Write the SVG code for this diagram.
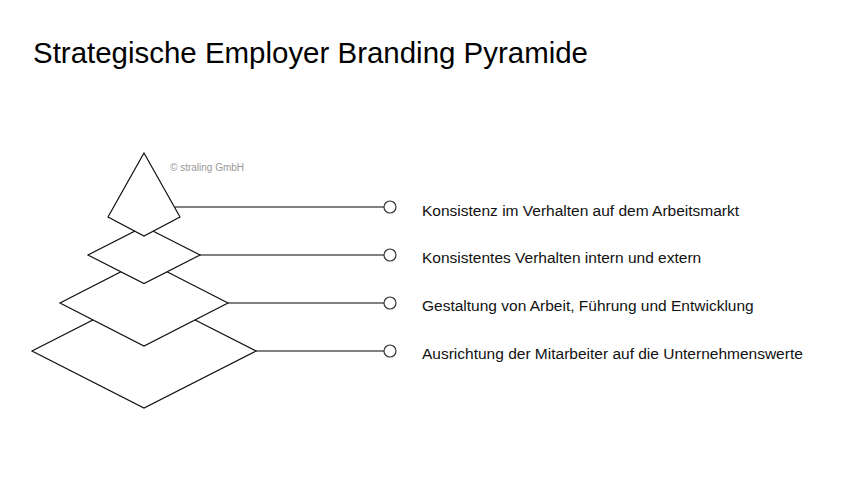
<svg xmlns="http://www.w3.org/2000/svg" width="864" height="486" viewBox="0 0 864 486">
<style>
.shape{fill:#fff;stroke:#111;stroke-width:1.2;stroke-linejoin:miter}
.conn{stroke:#808080;stroke-width:2;fill:none}
.dot{fill:#fff;stroke:#333;stroke-width:1.2}
.lbl{font-family:"Liberation Sans",Arial,sans-serif;font-size:15.5px;fill:#111}
.title{font-family:"Liberation Sans",Arial,sans-serif;font-size:29px;fill:#000}
.copy{font-family:"Liberation Sans",Arial,sans-serif;font-size:10px;fill:#999}
</style>
<rect width="864" height="486" fill="#fff"/>
<text class="title" x="33" y="63" textLength="555" lengthAdjust="spacingAndGlyphs">Strategische Employer Branding Pyramide</text>
<g id="connectors">
<line class="conn" x1="175" y1="207" x2="384" y2="207"/>
<line class="conn" x1="200" y1="255" x2="384" y2="255"/>
<line class="conn" x1="228" y1="303" x2="384" y2="303"/>
<line class="conn" x1="256" y1="351" x2="384" y2="351"/>
<circle class="dot" cx="390" cy="207" r="6"/>
<circle class="dot" cx="390" cy="255" r="6"/>
<circle class="dot" cx="390" cy="303" r="6"/>
<circle class="dot" cx="390" cy="351" r="6"/>
</g>
<g id="level4">
<polygon class="shape" points="144,294 256,351 144,408 32,351"/>
<text class="lbl" x="422" y="359">Ausrichtung der Mitarbeiter auf die Unternehmenswerte</text>
</g>
<g id="level3">
<polygon class="shape" points="144,260 228,303 144,346 60,303"/>
<text class="lbl" x="422" y="311">Gestaltung von Arbeit, Führung und Entwicklung</text>
</g>
<g id="level2">
<polygon class="shape" points="144,226.5 200,255 144,283.5 88,255"/>
<text class="lbl" x="422" y="263">Konsistentes Verhalten intern und extern</text>
</g>
<g id="level1">
<polygon class="shape" points="144,153 180,217 144,236 108,217"/>
<text class="lbl" x="422" y="216">Konsistenz im Verhalten auf dem Arbeitsmarkt</text>
</g>
<text class="copy" x="170" y="171">© straling GmbH</text>
</svg>
